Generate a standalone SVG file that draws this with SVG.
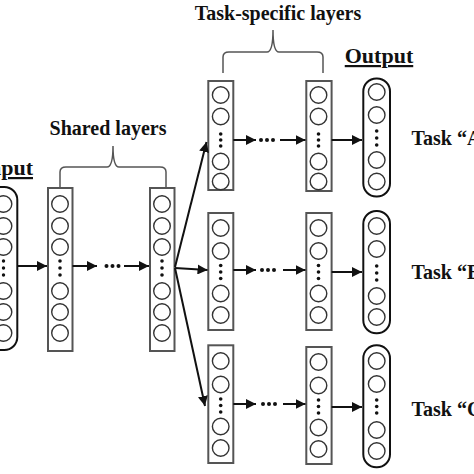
<svg xmlns="http://www.w3.org/2000/svg" width="474" height="474" viewBox="0 0 474 474">
<style>
.lay{fill:#fff;stroke:#555;stroke-width:2}
.out{fill:#fff;stroke:#111;stroke-width:2}
.n{fill:#fff;stroke:#333;stroke-width:1.4}
.d{fill:#111}
.c{fill:none;stroke:#111;stroke-width:2}
.br{fill:none;stroke:#555;stroke-width:1.5}
.t{font-family:"Liberation Serif","Times New Roman",serif;font-weight:bold;fill:#111}
</style>
<defs>
<marker id="ah" markerUnits="userSpaceOnUse" markerWidth="12" markerHeight="10" refX="10" refY="5" orient="auto">
<path d="M0,0 L10,5 L0,10 Z" fill="#111"/>
</marker>
</defs>
<rect width="474" height="474" fill="#fff"/>

<!-- labels -->
<text class="t" x="33" y="175" font-size="22" text-anchor="end" text-decoration="underline">Input</text>
<text class="t" x="108" y="135" font-size="20" text-anchor="middle">Shared layers</text>
<text class="t" x="278" y="20" font-size="20" text-anchor="middle">Task-specific layers</text>
<text class="t" x="379" y="63" font-size="22" text-anchor="middle" text-decoration="underline">Output</text>
<text class="t" x="411.5" y="145" font-size="20">Task “A”</text>
<text class="t" x="411.5" y="279" font-size="20">Task “B”</text>
<text class="t" x="411.5" y="416" font-size="20">Task “C”</text>

<!-- braces -->
<path class="br" d="M60,188 V172 Q60,167 66,167 H107 Q113,167 113,146 Q113,167 119,167 H160 Q166,167 166,172 V188"/>
<path class="br" d="M223,73 V57 Q223,52 229,52 H267 Q273,52 273,30 Q273,52 279,52 H317 Q323,52 323,57 V73"/>

<!-- input -->
<g id="input">
<rect class="out" x="-12" y="187" width="29.3" height="163" rx="13"/>
<circle class="n" cx="3.5" cy="204" r="8.3"/><circle class="n" cx="3.5" cy="226" r="8.3"/><circle class="n" cx="3.5" cy="247" r="8.3"/>
<circle class="d" cx="3.5" cy="261" r="1.7"/><circle class="d" cx="3.5" cy="268" r="1.7"/><circle class="d" cx="3.5" cy="275" r="1.7"/>
<circle class="n" cx="3.5" cy="291" r="8.3"/><circle class="n" cx="3.5" cy="312" r="8.3"/><circle class="n" cx="3.5" cy="333" r="8.3"/>
</g>

<!-- shared layers -->
<g id="shared1">
<rect class="lay" x="48" y="188" width="24.5" height="163"/>
<circle class="n" cx="60" cy="204" r="8.3"/><circle class="n" cx="60" cy="226" r="8.3"/><circle class="n" cx="60" cy="247" r="8.3"/>
<circle class="d" cx="60" cy="261" r="1.8"/><circle class="d" cx="60" cy="268" r="1.8"/><circle class="d" cx="60" cy="275" r="1.8"/>
<circle class="n" cx="60" cy="291" r="8.3"/><circle class="n" cx="60" cy="312" r="8.3"/><circle class="n" cx="60" cy="333" r="8.3"/>
</g>
<g id="shared2">
<rect class="lay" x="150" y="188" width="24.5" height="163"/>
<circle class="n" cx="162" cy="204" r="8.3"/><circle class="n" cx="162" cy="226" r="8.3"/><circle class="n" cx="162" cy="247" r="8.3"/>
<circle class="d" cx="162" cy="261" r="1.8"/><circle class="d" cx="162" cy="268" r="1.8"/><circle class="d" cx="162" cy="275" r="1.8"/>
<circle class="n" cx="162" cy="291" r="8.3"/><circle class="n" cx="162" cy="312" r="8.3"/><circle class="n" cx="162" cy="333" r="8.3"/>
</g>

<!-- task A -->
<g id="taskA1">
<rect class="lay" x="208.3" y="81" width="25" height="109"/>
<circle class="n" cx="220.7" cy="95" r="8.3"/><circle class="n" cx="220.7" cy="116.5" r="8.3"/>
<circle class="d" cx="220.7" cy="134" r="1.8"/><circle class="d" cx="220.7" cy="140" r="1.8"/><circle class="d" cx="220.7" cy="146" r="1.8"/>
<circle class="n" cx="220.7" cy="161.5" r="8.3"/><circle class="n" cx="220.7" cy="181.5" r="8.3"/>
</g>
<g id="taskA2">
<rect class="lay" x="306.3" y="81" width="25.3" height="110"/>
<circle class="n" cx="318.5" cy="95" r="8.3"/><circle class="n" cx="318.5" cy="116.5" r="8.3"/>
<circle class="d" cx="318.5" cy="134" r="1.8"/><circle class="d" cx="318.5" cy="140" r="1.8"/><circle class="d" cx="318.5" cy="146" r="1.8"/>
<circle class="n" cx="318.5" cy="161.5" r="8.3"/><circle class="n" cx="318.5" cy="181.5" r="8.3"/>
</g>
<g id="outA">
<rect class="out" x="363.3" y="78.5" width="26.7" height="118" rx="13"/>
<circle class="n" cx="376.7" cy="92" r="8.3"/><circle class="n" cx="376.7" cy="115" r="8.3"/>
<circle class="d" cx="376.7" cy="131" r="1.8"/><circle class="d" cx="376.7" cy="138" r="1.8"/><circle class="d" cx="376.7" cy="145" r="1.8"/>
<circle class="n" cx="376.7" cy="160" r="8.3"/><circle class="n" cx="376.7" cy="181.5" r="8.3"/>
</g>

<!-- task B -->
<g id="taskB1">
<rect class="lay" x="208.3" y="213" width="25" height="117"/>
<circle class="n" cx="220.7" cy="228" r="8.3"/><circle class="n" cx="220.7" cy="251" r="8.3"/>
<circle class="d" cx="220.7" cy="265.5" r="1.8"/><circle class="d" cx="220.7" cy="272" r="1.8"/><circle class="d" cx="220.7" cy="278.5" r="1.8"/>
<circle class="n" cx="220.7" cy="293.5" r="8.3"/><circle class="n" cx="220.7" cy="315" r="8.3"/>
</g>
<g id="taskB2">
<rect class="lay" x="306.3" y="213" width="25.3" height="117"/>
<circle class="n" cx="318.5" cy="228" r="8.3"/><circle class="n" cx="318.5" cy="251" r="8.3"/>
<circle class="d" cx="318.5" cy="265.5" r="1.8"/><circle class="d" cx="318.5" cy="272" r="1.8"/><circle class="d" cx="318.5" cy="278.5" r="1.8"/>
<circle class="n" cx="318.5" cy="293.5" r="8.3"/><circle class="n" cx="318.5" cy="315" r="8.3"/>
</g>
<g id="outB">
<rect class="out" x="363.3" y="211" width="26.7" height="122.3" rx="13"/>
<circle class="n" cx="376.7" cy="226" r="8.3"/><circle class="n" cx="376.7" cy="249" r="8.3"/>
<circle class="d" cx="376.7" cy="266" r="1.8"/><circle class="d" cx="376.7" cy="273" r="1.8"/><circle class="d" cx="376.7" cy="280" r="1.8"/>
<circle class="n" cx="376.7" cy="296" r="8.3"/><circle class="n" cx="376.7" cy="317" r="8.3"/>
</g>

<!-- task C -->
<g id="taskC1">
<rect class="lay" x="208.3" y="345.3" width="25" height="117.7"/>
<circle class="n" cx="220.7" cy="361" r="8.3"/><circle class="n" cx="220.7" cy="384.5" r="8.3"/>
<circle class="d" cx="220.7" cy="399" r="1.8"/><circle class="d" cx="220.7" cy="405.5" r="1.8"/><circle class="d" cx="220.7" cy="412" r="1.8"/>
<circle class="n" cx="220.7" cy="426.5" r="8.3"/><circle class="n" cx="220.7" cy="448" r="8.3"/>
</g>
<g id="taskC2">
<rect class="lay" x="306.3" y="347" width="25.3" height="117"/>
<circle class="n" cx="318.5" cy="362" r="8.3"/><circle class="n" cx="318.5" cy="385.5" r="8.3"/>
<circle class="d" cx="318.5" cy="400" r="1.8"/><circle class="d" cx="318.5" cy="406.5" r="1.8"/><circle class="d" cx="318.5" cy="413" r="1.8"/>
<circle class="n" cx="318.5" cy="427.5" r="8.3"/><circle class="n" cx="318.5" cy="449" r="8.3"/>
</g>
<g id="outC">
<rect class="out" x="363.3" y="345.3" width="26.7" height="122" rx="13"/>
<circle class="n" cx="376.7" cy="361" r="8.3"/><circle class="n" cx="376.7" cy="384" r="8.3"/>
<circle class="d" cx="376.7" cy="400" r="1.8"/><circle class="d" cx="376.7" cy="406.5" r="1.8"/><circle class="d" cx="376.7" cy="413" r="1.8"/>
<circle class="n" cx="376.7" cy="430" r="8.3"/><circle class="n" cx="376.7" cy="451" r="8.3"/>
</g>

<!-- connectors -->
<g id="connectors">
<line class="c" x1="17.5" y1="266" x2="47" y2="266" marker-end="url(#ah)"/>
<line class="c" x1="72.5" y1="266" x2="97" y2="266" marker-end="url(#ah)"/>
<g class="d"><circle cx="106.5" cy="266" r="2"/><circle cx="112.5" cy="266" r="2"/><circle cx="118.5" cy="266" r="2"/></g>
<line class="c" x1="124" y1="266" x2="149" y2="266" marker-end="url(#ah)"/>

<line class="c" x1="175" y1="267" x2="206.5" y2="142" marker-end="url(#ah)"/>
<line class="c" x1="175" y1="268" x2="207.5" y2="270" marker-end="url(#ah)"/>
<line class="c" x1="175" y1="268" x2="205" y2="406" marker-end="url(#ah)"/>

<line class="c" x1="233.3" y1="140" x2="256" y2="140" marker-end="url(#ah)"/>
<g class="d"><circle cx="261" cy="140" r="2"/><circle cx="267" cy="140" r="2"/><circle cx="273" cy="140" r="2"/></g>
<line class="c" x1="280" y1="140" x2="305.5" y2="140" marker-end="url(#ah)"/>
<line class="c" x1="331.6" y1="140" x2="362" y2="140" marker-end="url(#ah)"/>

<line class="c" x1="233.3" y1="270" x2="256" y2="270" marker-end="url(#ah)"/>
<g class="d"><circle cx="262" cy="270" r="2"/><circle cx="268" cy="270" r="2"/><circle cx="274" cy="270" r="2"/></g>
<line class="c" x1="283" y1="270" x2="305.5" y2="270" marker-end="url(#ah)"/>
<line class="c" x1="331.6" y1="272" x2="362" y2="272" marker-end="url(#ah)"/>

<line class="c" x1="233.3" y1="404" x2="256" y2="404" marker-end="url(#ah)"/>
<g class="d"><circle cx="263" cy="404" r="2"/><circle cx="269" cy="404" r="2"/><circle cx="275" cy="404" r="2"/></g>
<line class="c" x1="283" y1="404" x2="305.5" y2="404" marker-end="url(#ah)"/>
<line class="c" x1="331.6" y1="407" x2="362" y2="407" marker-end="url(#ah)"/>
</g>
</svg>
